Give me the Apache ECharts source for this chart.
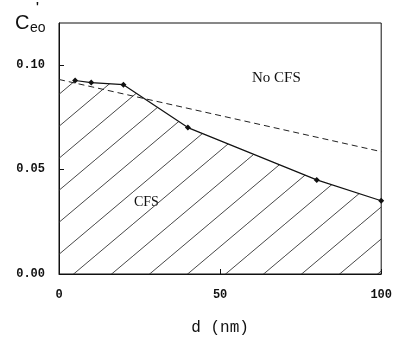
<!DOCTYPE html>
<html>
<head>
<meta charset="utf-8">
<script src="https://cdn.jsdelivr.net/npm/echarts@6/dist/echarts.min.js"></script>
<style>
  html, body { margin: 0; padding: 0; background: #fff; }
  #main { width: 395px; height: 341px; }
</style>
</head>
<body>
<div id="main"></div>
<script>
var myChart = echarts.init(document.getElementById('main'));

// measured points (solid line with markers)
var dVals = [5, 10, 20, 40, 80, 100];
var ceoVals = [0.0925, 0.0915, 0.0905, 0.070, 0.045, 0.035];
// dashed boundary
var dashD = [0, 100];
var dashC = [0.093, 0.0585];
// hatched region edge at d = 0
var areaStartD = 0;
var areaStartC = 0.093;
var yTicks = [0, 0.05, 0.10];
var xTicks = [0, 50, 100];

// hatch tile
var tile = document.createElement('canvas');
tile.width = 38;
tile.height = 32;
var ctx = tile.getContext('2d');
ctx.strokeStyle = '#333';
ctx.lineWidth = 0.9;
ctx.beginPath();
ctx.moveTo(0, 16); ctx.lineTo(19, 0);
ctx.moveTo(19, 32); ctx.lineTo(38, 16);
ctx.stroke();

function pairs(xs, ys) {
    return xs.map(function (x, i) { return [x, ys[i]]; });
}

var areaData = [[areaStartD, areaStartC]].concat(pairs(dVals, ceoVals));

var labelFont = {
    fontFamily: 'Liberation Mono',
    fontWeight: 'bold',
    fontSize: 12,
    color: '#111'
};

option = {
    backgroundColor: '#fff',
    animation: false,
    grid: {
        left: 59,
        right: 11,
        top: 23,
        bottom: 62,
        show: true,
        borderColor: '#111',
        borderWidth: 1
    },
    xAxis: {
        type: 'value',
        min: 0,
        max: 100,
        interval: 50,
        name: 'd (nm)',
        nameLocation: 'middle',
        nameGap: 46,
        nameTextStyle: {
            fontFamily: 'Liberation Mono',
            fontSize: 16,
            color: '#111'
        },
        axisLine: { lineStyle: { color: '#111' } },
        axisTick: { inside: true, length: 5, lineStyle: { color: '#111' } },
        splitLine: { show: false },
        axisLabel: Object.assign({ margin: 15 }, labelFont)
    },
    yAxis: {
        type: 'value',
        min: 0,
        max: 0.12,
        interval: 0.05,
        axisLine: { show: true, lineStyle: { color: '#111' } },
        axisTick: { show: true, inside: true, length: 5, lineStyle: { color: '#111' } },
        splitLine: { show: false },
        axisLabel: Object.assign({
            margin: 14,
            showMaxLabel: false,
            formatter: function (v) {
                return yTicks.indexOf(+v.toFixed(2)) >= 0 ? v.toFixed(2) : '';
            }
        }, labelFont)
    },
    graphic: [
        {
            type: 'text',
            left: 15,
            top: 13,
            style: { text: 'C', font: '20px Liberation Sans', fill: '#111' }
        },
        {
            type: 'text',
            left: 30,
            top: 21,
            style: { text: 'eo', font: '14px Liberation Sans', fill: '#111' }
        },
        {
            type: 'text',
            left: 36,
            top: 2,
            style: { text: "'", font: 'bold 12px Liberation Sans', fill: '#111' }
        },
        {
            type: 'text',
            left: 252,
            top: 71,
            style: { text: 'No CFS', font: '15px Liberation Serif', fill: '#111' }
        },
        {
            type: 'text',
            left: 134,
            top: 195,
            style: { text: 'CFS', font: '14px Liberation Serif', fill: '#111' }
        }
    ],
    series: [
        {
            name: 'hatch',
            type: 'line',
            data: areaData,
            symbol: 'none',
            lineStyle: { opacity: 0 },
            areaStyle: {
                color: { image: tile, repeat: 'repeat' },
                opacity: 1
            },
            z: 1
        },
        {
            name: 'boundary',
            type: 'line',
            data: pairs(dashD, dashC),
            symbol: 'none',
            lineStyle: { color: '#222', width: 1, type: [6, 4] },
            z: 2
        },
        {
            name: 'measured',
            type: 'line',
            data: pairs(dVals, ceoVals),
            symbol: 'diamond',
            symbolSize: 6,
            itemStyle: { color: '#111' },
            lineStyle: { color: '#111', width: 1.2 },
            z: 3
        }
    ]
};
myChart.setOption(option);
</script>
</body>
</html>
